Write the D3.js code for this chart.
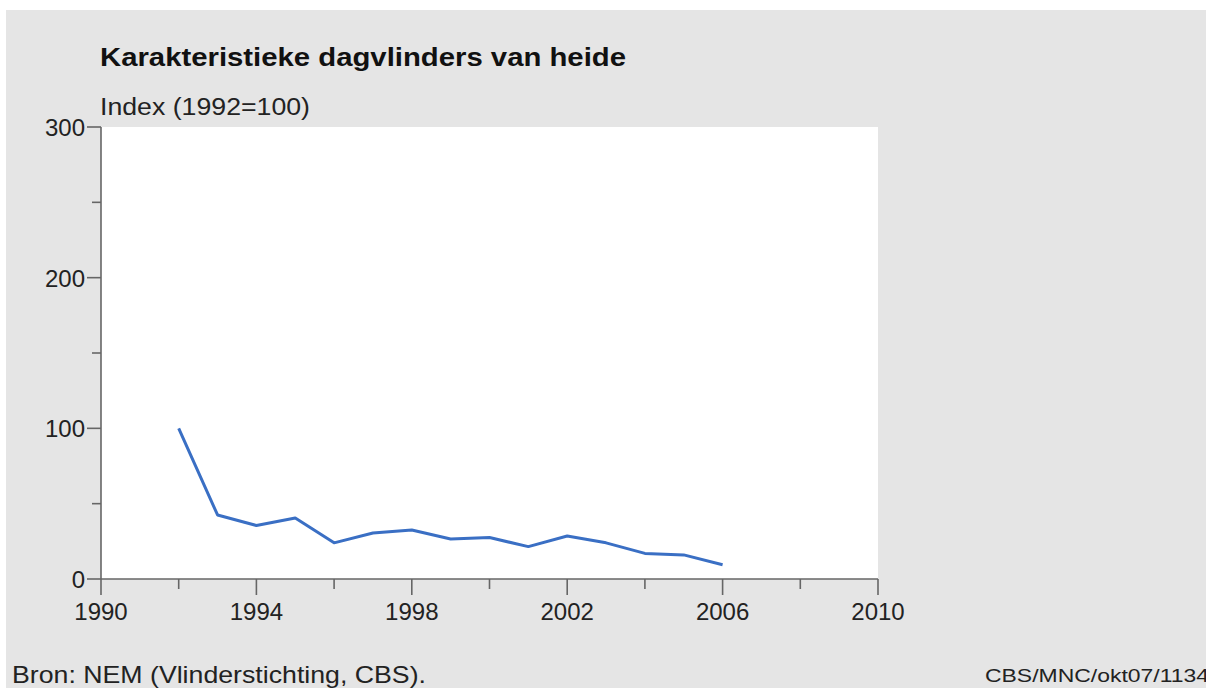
<!DOCTYPE html>
<html><head><meta charset="utf-8">
<script src="https://cdn.jsdelivr.net/npm/d3@7"></script>
<style>html,body{margin:0;padding:0;background:#fff;}svg{display:block;font-family:"Liberation Sans",Arial,sans-serif;}</style>
</head><body><svg id="c" width="1206" height="688"></svg>
<script>
const years = [1992,1993,1994,1995,1996,1997,1998,1999,2000,2001,2002,2003,2004,2005,2006];
const values = [100,42.5,35.5,40.5,24,30.5,32.5,26.5,27.5,21.5,28.5,24,17,16,9.5];
const yTicks = [0,100,200,300];
const yMinor = [50,150,250];
const xTicks = [1990,1994,1998,2002,2006,2010];
const xMinor = [1992,1996,2000,2004,2008];
const title = "Karakteristieke dagvlinders van heide";
const yLabel = "Index (1992=100)";
const source = "Bron: NEM (Vlinderstichting, CBS).";
const code = "CBS/MNC/okt07/1134";

const svg = d3.select("#c");
svg.append("rect").attr("x",6).attr("y",10).attr("width",1200).attr("height",678).attr("fill","#e5e5e5");
const L=101, R=878, T=127, B=579;
svg.append("rect").attr("x",L).attr("y",T).attr("width",R-L).attr("height",B-T).attr("fill","#fff");
const x = d3.scaleLinear().domain([1990,2010]).range([L,R]);
const y = d3.scaleLinear().domain([0,300]).range([B,T]);

const ax = svg.append("g").attr("stroke","#666").attr("stroke-width",1.6);
ax.append("line").attr("x1",L).attr("x2",L).attr("y1",T).attr("y2",B);
ax.append("line").attr("x1",L).attr("x2",R).attr("y1",B).attr("y2",B);
ax.selectAll(".ym").data(yTicks).join("line").attr("x1",L-14).attr("x2",L).attr("y1",d=>y(d)).attr("y2",d=>y(d));
ax.selectAll(".yn").data(yMinor).join("line").attr("x1",L-9).attr("x2",L).attr("y1",d=>y(d)).attr("y2",d=>y(d));
ax.selectAll(".xm").data(xTicks).join("line").attr("x1",d=>x(d)).attr("x2",d=>x(d)).attr("y1",B).attr("y2",B+16);
ax.selectAll(".xn").data(xMinor).join("line").attr("x1",d=>x(d)).attr("x2",d=>x(d)).attr("y1",B).attr("y2",B+10);

svg.selectAll(".yl").data(yTicks).join("text").attr("x",L-16).attr("y",d=>y(d)+9)
  .attr("text-anchor","end").attr("font-size",24).attr("fill","#222").text(d=>d);
svg.selectAll(".xl").data(xTicks).join("text").attr("x",d=>x(d)).attr("y",B+41)
  .attr("text-anchor","middle").attr("font-size",24).attr("fill","#222").text(d=>d);

svg.append("path").datum(years.map((d,i)=>[d,values[i]]))
  .attr("d",d3.line().x(d=>x(d[0])).y(d=>y(d[1])))
  .attr("fill","none").attr("stroke","#3a6fc4").attr("stroke-width",3).attr("stroke-linejoin","round");

svg.append("text").attr("x",100).attr("y",66).attr("font-size",26).attr("font-weight","bold").attr("fill","#111")
  .attr("textLength",526).attr("lengthAdjust","spacingAndGlyphs").text(title);
svg.append("text").attr("x",100).attr("y",115).attr("font-size",23).attr("fill","#222")
  .attr("textLength",210).attr("lengthAdjust","spacingAndGlyphs").text(yLabel);
svg.append("text").attr("x",12).attr("y",683).attr("font-size",24).attr("fill","#222")
  .attr("textLength",414).attr("lengthAdjust","spacingAndGlyphs").text(source);
svg.append("text").attr("x",985).attr("y",682).attr("font-size",19).attr("fill","#222")
  .attr("textLength",224).attr("lengthAdjust","spacingAndGlyphs").text(code);
</script></body></html>
